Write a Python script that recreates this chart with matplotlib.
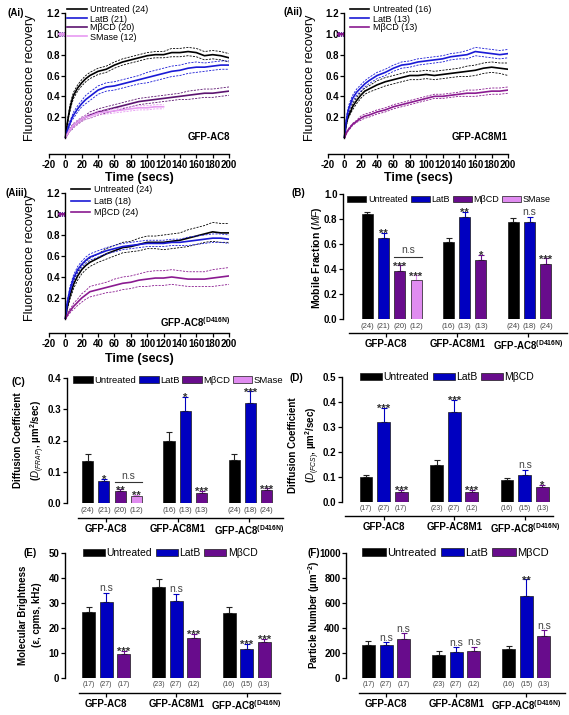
import numpy as np
import matplotlib
matplotlib.use("Agg")
import matplotlib.pyplot as plt
from matplotlib.patches import Patch

plt.rcParams["font.family"] = ["Liberation Sans", "DejaVu Sans"]
plt.rcParams["mathtext.fontset"] = "custom"
plt.rcParams["mathtext.rm"] = "Liberation Sans"
plt.rcParams["mathtext.it"] = "Liberation Sans:italic"
plt.rcParams["mathtext.bf"] = "Liberation Sans:bold"
plt.rcParams["axes.unicode_minus"] = False

# ---- FRAP recovery curves ----
TIME = [0, 2, 4, 6, 8, 10, 15, 20, 25, 30, 40, 50, 60, 70, 80, 90, 100,
        110, 120, 130, 140, 150, 160, 170, 180, 190, 200]
TIME_SMASE = TIME[:19]
PRE_T = [-8, -6, -4, -2]
PRE_V = [1.0, 1.0, 1.0, 1.0]

AI_UNT = [0, .12, .22, .30, .36, .41, .48, .53, .57, .60, .64, .66, .70, .73, .75, .77, .79,
          .80, .80, .82, .82, .83, .82, .79, .80, .79, .77]
AI_UNT_SEM = [0, .02, .02, .03, .03, .03, .03, .03, .03, .03, .03, .03, .03, .03, .03, .03, .03,
              .03, .03, .04, .04, .04, .04, .04, .04, .04, .04]
AI_LATB = [0, .06, .11, .15, .19, .22, .28, .33, .37, .40, .46, .49, .50, .52, .54, .56, .58,
           .60, .62, .64, .65, .67, .68, .68, .69, .70, .70]
AI_LATB_SEM = [0, .01, .02, .02, .02, .03, .03, .03, .04, .04, .04, .04, .04, .04, .04, .04, .05,
               .05, .05, .05, .05, .05, .05, .04, .04, .04, .04]
AI_MBCD = [0, .03, .06, .08, .10, .12, .15, .18, .20, .22, .25, .27, .29, .31, .33, .35, .36,
           .37, .38, .39, .40, .41, .42, .43, .43, .44, .45]
AI_MBCD_SEM = [0, .01, .01, .01, .02, .02, .02, .02, .02, .03, .03, .03, .03, .03, .03, .03, .03,
               .03, .03, .03, .03, .04, .04, .04, .04, .04, .04]
AI_SMASE = [0, .03, .06, .08, .10, .12, .15, .18, .20, .21, .24, .25, .26, .27, .28, .29, .29,
            .30, .30]
AI_SMASE_SEM = [0, .01, .01, .01, .01, .02, .02, .02, .02, .02, .02, .02, .02, .02, .02, .02, .02,
                .02, .02]

AII_UNT = [0, .12, .19, .23, .26, .30, .36, .41, .45, .47, .51, .54, .56, .58, .60, .60, .61,
           .60, .61, .62, .63, .64, .65, .67, .68, .67, .66]
AII_UNT_SEM = [0, .01, .02, .02, .02, .03, .03, .03, .03, .03, .04, .04, .04, .04, .04, .04, .04,
               .04, .04, .04, .04, .05, .05, .05, .05, .05, .06]
AII_LATB = [0, .15, .24, .30, .34, .38, .44, .48, .52, .55, .60, .63, .67, .70, .71, .73, .74,
            .75, .76, .78, .79, .80, .83, .82, .81, .80, .81]
AII_LATB_SEM = [0, .02, .03, .03, .03, .03, .03, .03, .03, .03, .03, .03, .03, .03, .03, .03, .03,
                .03, .03, .03, .03, .04, .04, .04, .04, .04, .04]
AII_MBCD = [0, .04, .07, .09, .11, .13, .16, .19, .21, .22, .25, .27, .30, .32, .34, .36, .38,
            .40, .40, .41, .42, .43, .43, .44, .45, .45, .46]
AII_MBCD_SEM = [0, .01, .01, .01, .01, .01, .01, .02, .02, .02, .02, .02, .02, .02, .02, .02, .02,
                .02, .02, .02, .02, .03, .03, .03, .03, .03, .03]

AIII_UNT = [0, .10, .17, .23, .28, .33, .41, .47, .51, .54, .58, .62, .65, .68, .69, .71, .73,
            .73, .73, .74, .75, .77, .79, .81, .83, .82, .82]
AIII_UNT_SEM = [0, .02, .03, .03, .04, .04, .04, .04, .04, .04, .04, .05, .05, .05, .05, .06, .06,
                .06, .07, .07, .07, .08, .08, .08, .09, .09, .09]
AIII_LATB = [0, .14, .22, .29, .34, .39, .47, .52, .56, .59, .62, .65, .67, .69, .70, .71, .72,
             .72, .72, .73, .73, .74, .75, .76, .77, .77, .76]
AIII_LATB_SEM = [0, .02, .02, .03, .03, .03, .03, .03, .03, .03, .03, .03, .03, .03, .03, .03, .03,
                 .03, .03, .03, .03, .04, .04, .04, .04, .04, .04]
AIII_MBCD = [0, .03, .06, .08, .10, .12, .16, .20, .23, .26, .28, .30, .32, .34, .35, .37, .38,
             .39, .39, .40, .39, .38, .38, .38, .39, .40, .41]
AIII_MBCD_SEM = [0, .01, .02, .02, .02, .03, .03, .04, .04, .05, .05, .05, .06, .06, .06, .06, .07,
                 .07, .07, .07, .07, .07, .07, .07, .08, .08, .08]

# ---- bar panels ----
TREATMENTS = ["Untreated", "LatB", "M\u03b2CD", "SMase"]
GROUPS = ["GFP-AC8", "GFP-AC8M1", "GFP-AC8$^{\\mathbf{(D416N)}}$"]

B_MEAN = [[0.84, 0.645, 0.385, 0.315], [0.615, 0.82, 0.475], [0.775, 0.78, 0.44]]
B_SEM = [[0.02, 0.045, 0.045, 0.035], [0.03, 0.04, 0.04], [0.03, 0.04, 0.045]]
B_N = [[24, 21, 20, 12], [16, 13, 13], [24, 18, 24]]
B_SIG = [["", "**", "***", "***"], ["", "**", "*"], ["", "n.s", "***"]]

C_MEAN = [[0.133, 0.07, 0.038, 0.022], [0.2, 0.295, 0.033], [0.138, 0.32, 0.042]]
C_SEM = [[0.025, 0.008, 0.006, 0.004], [0.027, 0.045, 0.007], [0.018, 0.037, 0.005]]
C_N = [[24, 21, 20, 12], [16, 13, 13], [24, 18, 24]]
C_SIG = [["", "*", "**", "**"], ["", "*", "***"], ["", "***", "***"]]

D_MEAN = [[0.10, 0.32, 0.04], [0.15, 0.36, 0.04], [0.09, 0.11, 0.06]]
D_SEM = [[0.01, 0.058, 0.01], [0.018, 0.05, 0.01], [0.008, 0.02, 0.01]]
D_N = [[17, 27, 17], [23, 27, 12], [16, 15, 13]]
D_SIG = [["", "***", "***"], ["", "***", "***"], ["", "n.s", "*"]]

E_MEAN = [[26.3, 30.5, 9.8], [36.5, 30.8, 16.0], [26.0, 11.8, 14.3]]
E_SEM = [[2.0, 3.7, 1.2], [3.3, 3.0, 1.6], [2.5, 1.9, 1.4]]
E_N = [[17, 27, 17], [23, 27, 12], [16, 15, 13]]
E_SIG = [["", "n.s", "***"], ["", "n.s", "***"], ["", "***", "***"]]

F_MEAN = [[265, 265, 310], [185, 208, 220], [232, 660, 333]]
F_SEM = [[30, 22, 50], [28, 40, 30], [22, 130, 50]]
F_N = [[17, 27, 17], [23, 27, 12], [16, 15, 13]]
F_SIG = [["", "n.s", "n.s"], ["", "n.s", "n.s"], ["", "**", "n.s"]]

BAR_COLORS = ["#000000", "#0000c0", "#680c8c", "#e08cf0"]

W, H = 569, 715
fig = plt.figure(figsize=(W / 100, H / 100), dpi=100)


def px_axes(left, top, right, bottom):
    return fig.add_axes([left / W, 1 - bottom / H, (right - left) / W, (bottom - top) / H])


def pt(px):
    return px * 0.72


def ftext(x, y, s, **kw):
    fig.text(x / W, 1 - y / H, s, **kw)


def recovery_panel(rect, curves, drop_px, leg_anchor, labelspacing):
    ax = px_axes(*rect)
    handles = []
    for label, t, mean, sem, color in curves:
        t = np.array(t)
        mean = np.array(mean)
        sem = np.array(sem)
        (h,) = ax.plot(t, mean, color=color, lw=1.2, label=label)
        handles.append(h)
        ax.plot(t, mean + sem, color=color, lw=0.6, ls=(0, (2.5, 1.5)))
        ax.plot(t, mean - sem, color=color, lw=0.6, ls=(0, (2.5, 1.5)))
        ax.plot(PRE_T, PRE_V, color=color, lw=1.4, marker="|", ms=3, mew=0.8)
    ax.set_xlim(-20, 200)
    ax.set_ylim(0, 1.2)
    for side in ["top", "right"]:
        ax.spines[side].set_visible(False)
    ax.spines["left"].set_position(("data", 0))
    ax.spines["bottom"].set_position(("outward", pt(drop_px)))
    ax.set_yticks([0.2, 0.4, 0.6, 0.8, 1.0, 1.2])
    ax.set_yticklabels(["0.2", "0.4", "0.6", "0.8", "1.0", "1.2"])
    ax.set_xticks(range(-20, 201, 20))
    ax.set_xticklabels([str(v) for v in range(-20, 201, 20)])
    ax.tick_params(direction="out", length=3, width=0.9, labelsize=7, pad=1)
    for lab in ax.get_xticklabels() + ax.get_yticklabels():
        lab.set_fontweight("bold")
    for s in ax.spines.values():
        s.set_linewidth(1.0)
    ax.legend(handles=handles, loc="upper left", bbox_to_anchor=leg_anchor, frameon=False,
              fontsize=6.5, handlelength=2.2, handletextpad=0.4, labelspacing=labelspacing,
              borderpad=0, borderaxespad=0)
    return ax


recovery_panel((49, 13, 229, 138), [
    ("Untreated (24)", TIME, AI_UNT, AI_UNT_SEM, "#000000"),
    ("LatB (21)", TIME, AI_LATB, AI_LATB_SEM, "#1a1ad6"),
    ("M\u03b2CD (20)", TIME, AI_MBCD, AI_MBCD_SEM, "#5c1470"),
    ("SMase (12)", TIME_SMASE, AI_SMASE, AI_SMASE_SEM, "#e79af2"),
], 16, (0.1, 1.06), 0.0)

recovery_panel((328, 13, 508, 138), [
    ("Untreated (16)", TIME, AII_UNT, AII_UNT_SEM, "#000000"),
    ("LatB (13)", TIME, AII_LATB, AII_LATB_SEM, "#1a1ad6"),
    ("M\u03b2CD (13)", TIME, AII_MBCD, AII_MBCD_SEM, "#8a1a90"),
], 16, (0.12, 1.06), 0.0)

recovery_panel((49, 193, 229, 319), [
    ("Untreated (24)", TIME, AIII_UNT, AIII_UNT_SEM, "#000000"),
    ("LatB (18)", TIME, AIII_LATB, AIII_LATB_SEM, "#1a1ad6"),
    ("M\u03b2CD (24)", TIME, AIII_MBCD, AIII_MBCD_SEM, "#8a1a90"),
], 14, (0.12, 1.06), 0.25)

for x, y in [(139, 178), (418, 178), (139, 359)]:
    ftext(x, y, "Time (secs)", ha="center", va="center", fontsize=9, fontweight="bold")
for x, y in [(30, 78), (310, 78), (30, 258)]:
    ftext(x, y, "Fluorescence recovery", rotation=90, ha="center", va="center", fontsize=9)
ftext(230, 137, "GFP-AC8", ha="right", va="center", fontsize=7, fontweight="bold")
ftext(508, 137, "GFP-AC8M1", ha="right", va="center", fontsize=7, fontweight="bold")
ftext(230, 322, "GFP-AC8$^{\\mathbf{(D416N)}}$", ha="right", va="center", fontsize=7,
      fontweight="bold")


def bar_panel(rect, xlim, ylim, yticks, ytick_labels, positions, group_ticks, means, sems,
              ns, sigs, drop_px, n_off, bar_w, leg_size, leg_anchor, n_size, line_bounds,
              colspace=0.35):
    ax = px_axes(*rect)
    for g, (pos, mean, sem, n, sig) in enumerate(zip(positions, means, sems, ns, sigs)):
        for i in range(len(mean)):
            c = BAR_COLORS[i]
            ax.bar(pos[i], mean[i], width=bar_w, color=c, edgecolor="#1a1a1a", linewidth=0.5,
                   zorder=2)
            ax.errorbar(pos[i], mean[i], yerr=[[0], [sem[i]]], fmt="none", ecolor=c if i else "#222",
                        elinewidth=0.8, capsize=2.2, capthick=0.8, zorder=1)
            ax.annotate("(%d)" % n[i], (pos[i], 0), xytext=(0, -pt(n_off)),
                        textcoords="offset points", ha="center", va="center", fontsize=n_size,
                        color="#444444", annotation_clip=False)
            if sig[i] == "n.s":
                ax.annotate("n.s", (pos[i], mean[i] + sem[i]), xytext=(0, 1),
                            textcoords="offset points", ha="center", va="baseline",
                            fontsize=7.5, color="#444444")
            elif sig[i]:
                ax.annotate(sig[i], (pos[i], mean[i] + sem[i]), xytext=(0, -3),
                            textcoords="offset points", ha="center", va="baseline",
                            fontsize=8, fontweight="bold", color="#333333")
    ax.set_xlim(*xlim)
    ax.set_ylim(*ylim)
    for side in ["top", "right"]:
        ax.spines[side].set_visible(False)
    ax.spines["bottom"].set_position(("outward", pt(drop_px)))
    ax.spines["bottom"].set_bounds(*line_bounds)
    ax.set_yticks(yticks)
    ax.set_yticklabels(ytick_labels)
    ax.set_xticks(group_ticks)
    ax.set_xticklabels(GROUPS)
    ax.tick_params(direction="out", length=3, width=0.9, labelsize=7, pad=1)
    for lab in ax.get_xticklabels() + ax.get_yticklabels():
        lab.set_fontweight("bold")
    for s in ax.spines.values():
        s.set_linewidth(1.0)
    k = max(len(m) for m in means)
    handles = [Patch(facecolor=BAR_COLORS[i], edgecolor="#1a1a1a", linewidth=0.5)
               for i in range(k)]
    ax.legend(handles, TREATMENTS[:k], loc="center left", bbox_to_anchor=leg_anchor, ncol=k,
              frameon=False, fontsize=leg_size, handlelength=2.1, handleheight=0.7,
              handletextpad=0.15, columnspacing=colspace, borderpad=0, borderaxespad=0)
    return ax


POS4 = [[0, 1, 2, 3], [5, 6, 7], [9, 10, 11]]
POS3 = [[0, 1, 2], [4, 5, 6], [8, 9, 10]]

axb = bar_panel((343, 194, 567, 319), (-1.5, 12.3), (0, 1.0), [0, .2, .4, .6, .8, 1.0],
                ["0.0", "0.2", "0.4", "0.6", "0.8", "1.0"], POS4, [1.15, 5.55, 9.9],
                B_MEAN, B_SEM, B_N, B_SIG, 14, 8, 0.68, 6.5, (0.02, 0.955), 5.5, (-1.1, 12.3))
axb.plot([1.66, 3.34], [0.5, 0.5], color="#333333", lw=0.8)
axb.text(2.5, 0.515, "n.s", ha="center", va="bottom", fontsize=7.5, color="#444444")

axc = bar_panel((67, 378, 283, 503), (-1.26, 12.0), (0, 0.4), [0, .1, .2, .3, .4],
                ["0.0", "0.1", "0.2", "0.3", "0.4"], POS4, [1.15, 5.55, 9.9],
                C_MEAN, C_SEM, C_N, C_SIG, 15, 8, 0.68, 6.8, (0.03, 0.98), 5.5, (-0.6, 12.0),
                colspace=0.25)
axc.plot([1.66, 3.34], [0.068, 0.068], color="#333333", lw=0.8)
axc.text(2.5, 0.071, "n.s", ha="center", va="bottom", fontsize=7.5, color="#444444")

bar_panel((342, 377, 553, 502), (-1.36, 10.6), (0, 0.5), [0, .1, .2, .3, .4, .5],
          ["0.0", "0.1", "0.2", "0.3", "0.4", "0.5"], POS3, [1, 5, 9],
          D_MEAN, D_SEM, D_N, D_SIG, 14, 6, 0.72, 7.5, (0.085, 1.0), 5, (-1.2, 10.6))

bar_panel((65, 553, 280, 678), (-1.34, 10.9), (0, 50), [0, 10, 20, 30, 40, 50],
          ["0", "10", "20", "30", "40", "50"], POS3, [1, 5, 9],
          E_MEAN, E_SEM, E_N, E_SIG, 15, 7, 0.74, 7.5, (0.085, 1.0), 5, (-0.54, 10.9))

bar_panel((346, 553, 565, 678), (-1.28, 11.2), (0, 1000), [0, 200, 400, 600, 800, 1000],
          ["0", "200", "400", "600", "800", "1000"], POS3, [1, 5, 9],
          F_MEAN, F_SEM, F_N, F_SIG, 15, 6, 0.74, 8, (0.075, 1.0), 5, (-0.54, 11.2))

ftext(317, 258, "Mobile Fraction ($\\mathit{MF}$)", rotation=90, ha="center", va="center",
      fontsize=7.5, fontweight="bold")
ftext(30, 440, "Diffusion Coefficient\n($\\mathit{D}_{\\mathit{(FRAP)}}$, \u00b5m$^{\\mathbf{2}}$/sec)",
      rotation=90, ha="center", va="center", fontsize=7, fontweight="bold", linespacing=1.4)
ftext(305, 445, "Diffusion Coefficient\n($\\mathit{D}_{\\mathit{(FCS)}}$, \u00b5m$^{\\mathbf{2}}$/sec)",
      rotation=90, ha="center", va="center", fontsize=7, fontweight="bold", linespacing=1.4)
ftext(30, 615, "Molecular Brightness\n(\u03b5, cpms, kHz)", rotation=90, ha="center",
      va="center", fontsize=7, fontweight="bold", linespacing=1.4)
ftext(314, 615, "Particle Number (\u00b5m$^{\\mathbf{-2}}$)", rotation=90, ha="center",
      va="center", fontsize=7, fontweight="bold")

for x, y, s in [(7, 13, "(Ai)"), (284, 12, "(Aii)"), (5, 193, "(Aiii)"), (292, 193, "(B)"),
                (12, 382, "(C)"), (290, 378, "(D)"), (23, 553, "(E)"), (307, 553, "(F)")]:
    ftext(x, y, s, ha="left", va="center", fontsize=7, fontweight="bold")

fig.savefig("out.png", dpi=100)
